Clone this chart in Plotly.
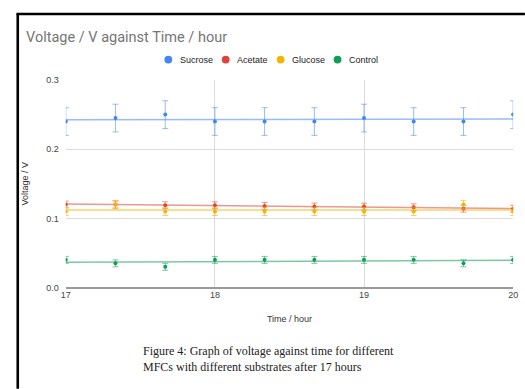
import numpy as np
import plotly.graph_objects as go

W, H = 525, 389

# Time points (hours) and measured voltages (V)
hours = [17, 17.333, 17.667, 18, 18.333, 18.667, 19, 19.333, 19.667, 20]
sucrose = [0.24, 0.245, 0.25, 0.24, 0.24, 0.24, 0.245, 0.24, 0.24, 0.25]
acetate = [0.12, 0.12, 0.119, 0.119, 0.118, 0.117, 0.117, 0.116, 0.114, 0.114]
glucose = [0.11, 0.12, 0.11, 0.11, 0.11, 0.11, 0.11, 0.11, 0.12, 0.11]
control = [0.04, 0.035, 0.03, 0.04, 0.04, 0.04, 0.04, 0.04, 0.035, 0.04]

names = ["Sucrose", "Acetate", "Glucose", "Control"]
errors = [0.02, 0.005, 0.006, 0.005]
colors = ["#4285F4", "#DB4437", "#F4B400", "#0F9D58"]
faded = ["rgba(66,133,244,0.55)", "rgba(219,68,55,0.55)",
         "rgba(244,180,0,0.6)", "rgba(15,157,88,0.55)"]
series = [sucrose, acetate, glucose, control]

y_ticks = [0.0, 0.1, 0.2, 0.3]
x_ticks = [17, 18, 19, 20]

caption = ["Figure 4: Graph of voltage against time for different",
           "MFCs with different substrates after 17 hours"]


def px(v):
    return v / W


def py(v):
    return 1 - v / H


fig = go.Figure()
xs = np.array(hours)
for name, vals, err, col, fcol in zip(names, series, errors, colors, faded):
    ys = np.array(vals)
    slope, icpt = np.polyfit(xs, ys, 1)
    fit_x = np.array([17, 20])
    # linear trendline
    fig.add_trace(go.Scatter(
        x=fit_x, y=slope * fit_x + icpt, mode="lines",
        line=dict(color=fcol, width=1.5), showlegend=False, hoverinfo="skip"))
    # data points with constant error bars
    fig.add_trace(go.Scatter(
        x=xs, y=ys, mode="markers", name=name, showlegend=False,
        marker=dict(color=col, size=4),
        error_y=dict(type="constant", value=err, color=fcol,
                     thickness=1, width=3)))

shapes = [
    # page frame
    dict(type="line", xref="paper", yref="paper",
         x0=px(13), x1=px(13), y0=py(9), y1=py(H + 5),
         line=dict(color="black", width=2.6)),
    dict(type="line", xref="paper", yref="paper",
         x0=px(11.7), x1=px(W + 5), y0=py(9.3), y1=py(9.3),
         line=dict(color="black", width=2.6)),
]

annotations = [
    dict(text="Voltage / V against Time / hour", x=px(19), y=py(33),
         xref="paper", yref="paper", xanchor="left", yanchor="middle",
         showarrow=False, font=dict(family="Roboto", size=14.5, color="#757575")),
]
for line, ly in zip(caption, [355, 372]):
    annotations.append(dict(
        text=line, x=px(139), y=py(ly), xref="paper", yref="paper",
        xanchor="left", yanchor="middle", showarrow=False,
        font=dict(family="Liberation Serif", size=12, color="#222222")))

# legend row
leg_dots = [166.5, 225, 281, 339]
for name, col, dx in zip(names, colors, leg_dots):
    shapes.append(dict(type="circle", xref="paper", yref="paper",
                       x0=px(dx - 4), x1=px(dx + 4), y0=py(60), y1=py(52),
                       fillcolor=col, line=dict(width=0)))
    annotations.append(dict(text=name, x=px(dx + 9.5), y=py(56),
                            xref="paper", yref="paper", xanchor="left",
                            yanchor="middle", showarrow=False,
                            font=dict(family="Liberation Sans", size=9,
                                      color="#222222")))

fig.update_layout(
    width=W, height=H,
    margin=dict(l=0, r=0, t=0, b=0),
    paper_bgcolor="white", plot_bgcolor="white",
    showlegend=False,
    shapes=shapes, annotations=annotations,
    xaxis=dict(domain=[px(62), px(518)], range=[17, 20],
               tickvals=x_ticks, ticktext=[str(t) for t in x_ticks],
               showgrid=True, gridcolor="#dcdcdc", gridwidth=1,
               zeroline=False, showline=False, ticks="",
               tickfont=dict(family="Liberation Sans", size=9, color="#444444"),
               title=dict(text="Time / hour", standoff=17,
                          font=dict(family="Liberation Sans", size=9,
                                    color="#333333"))),
    yaxis=dict(domain=[py(290), py(77)], range=[0, 0.3],
               tickvals=y_ticks, ticktext=[f"{t:.1f}" for t in y_ticks],
               showgrid=True, gridcolor="#dcdcdc", gridwidth=1,
               zeroline=True, zerolinecolor="#999999", zerolinewidth=1.5,
               showline=False, ticks="", ticklabelstandoff=6,
               tickfont=dict(family="Liberation Sans", size=9, color="#444444"),
               title=dict(text="Voltage / V", standoff=16,
                          font=dict(family="Liberation Sans", size=9,
                                    color="#333333"))),
)

fig.write_html("out.html")
